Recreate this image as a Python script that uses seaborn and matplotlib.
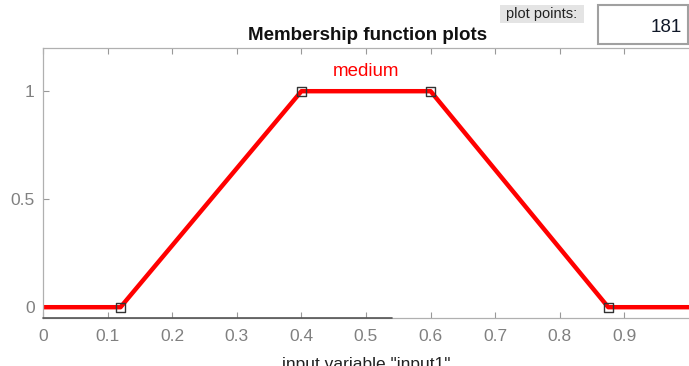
import matplotlib
matplotlib.use("Agg")
import matplotlib.pyplot as plt
import seaborn as sns
import pandas as pd
from matplotlib.patches import Rectangle

# trapezoid membership function "medium"
mf_name = "medium"
mf_params = [0.12, 0.4, 0.6, 0.875]
line_x = [0.0, 0.12, 0.4, 0.6, 0.875, 1.0]
line_y = [0.0, 0.0, 1.0, 1.0, 0.0, 0.0]
marker_y = [0.0, 1.0, 1.0, 0.0]
x_ticks = [0, 0.1, 0.2, 0.3, 0.4, 0.5, 0.6, 0.7, 0.8, 0.9]
y_ticks = [0, 0.5, 1]
plot_points = "181"

sns.set_style("white")
plt.rcParams['font.family'] = ['Liberation Sans', 'DejaVu Sans']

df = pd.DataFrame({"x": line_x, "y": line_y})
pts = pd.DataFrame({"x": mf_params, "y": marker_y})

fig = plt.figure(figsize=(6.89, 3.66), dpi=100)
ax = fig.add_axes([43 / 689, 1 - 318 / 366, 646 / 689, 270 / 366])

sns.lineplot(data=df, x="x", y="y", color="#ff0000", linewidth=3.2, ax=ax, zorder=2)
sns.scatterplot(data=pts, x="x", y="y", marker="s", s=40, facecolors="none",
                edgecolor="#333333", linewidth=1.0, ax=ax, zorder=3)

ax.set_xlim(0, 1)
ax.set_ylim(-0.05, 1.2)
ax.set_xticks(x_ticks)
ax.set_xticklabels([f"{t:g}" for t in x_ticks])
ax.set_yticks(y_ticks)
ax.set_yticklabels([f"{t:g}" for t in y_ticks])
ax.tick_params(direction="in", length=4, width=0.8, colors="#999999",
               labelcolor="#808080", labelsize=12.5, top=True, bottom=True, left=True)
ax.tick_params(axis="x", pad=8)
ax.tick_params(axis="y", pad=6)
for side in ["left", "bottom", "top"]:
    ax.spines[side].set_color("#b0b0b0")
    ax.spines[side].set_linewidth(0.9)
ax.spines["right"].set_visible(False)
# darker strip on the lower edge (panel separator)
ax.plot([0, 0.54], [0, 0], transform=ax.transAxes, color="#555555",
        linewidth=1.2, clip_on=False, zorder=4)

ax.set_xlabel('input variable "input1"', fontsize=12.5, color="#222222", labelpad=9)
ax.set_ylabel("")

ax.text(0.5, 1.09, mf_name, color="#ff0000", fontsize=13.5, ha="center", va="center")

fig.text(368 / 689, 1 - 36 / 366, "Membership function plots", fontsize=13.5,
         fontweight="bold", ha="center", va="center", color="#111111")

# "plot points:" label and edit box
fig.patches.append(Rectangle((500 / 689, 1 - 23 / 366), 84 / 689, 18 / 366,
                             transform=fig.transFigure, facecolor="#e4e4e4",
                             edgecolor="none"))
fig.text(542 / 689, 1 - 14 / 366, "plot points:", fontsize=10.5, ha="center",
         va="center", color="#222222")
fig.patches.append(Rectangle((598 / 689, 1 - 44 / 366), 90 / 689, 39 / 366,
                             transform=fig.transFigure, facecolor="white",
                             edgecolor="#a0a0a0", linewidth=1.5))
fig.text(682 / 689, 1 - 27 / 366, plot_points, fontsize=13.5, ha="right",
         va="center", color="#101828")

fig.savefig("out.png", dpi=100)
